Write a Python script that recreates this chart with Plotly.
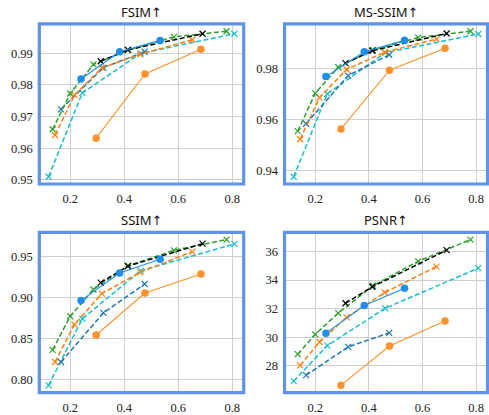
import plotly.graph_objects as go

# Bit rate (bpp) for each method
x_black = [0.313, 0.413, 0.690]
x_green = [0.135, 0.200, 0.286, 0.415, 0.584, 0.779]
x_orange = [0.144, 0.216, 0.317, 0.459, 0.652]
x_cyan = [0.120, 0.245, 0.461, 0.808]
x_blue = [0.166, 0.323, 0.476]
x_ours = [0.240, 0.383, 0.533]
x_orange_c = [0.296, 0.477, 0.684]

# FSIM
fsim_black = [0.9875, 0.9911, 0.9962]
fsim_green = [0.9660, 0.9773, 0.9865, 0.9911, 0.9952, 0.9970]
fsim_orange = [0.9642, 0.9768, 0.9854, 0.9897, 0.9943]
fsim_cyan = [0.9510, 0.9775, 0.9900, 0.9962]
fsim_blue = [0.9723, 0.9855, 0.9905]
fsim_ours = [0.9819, 0.9905, 0.9941]
fsim_orange_c = [0.9632, 0.9835, 0.9913]

# MS-SSIM
ms_black = [0.9823, 0.9872, 0.9940]
ms_green = [0.9555, 0.9704, 0.9807, 0.9875, 0.9924, 0.9949]
ms_orange = [0.9523, 0.9687, 0.9798, 0.9866, 0.9918]
ms_cyan = [0.9375, 0.9702, 0.9864, 0.9938]
ms_blue = [0.9584, 0.9774, 0.9856]
ms_ours = [0.9770, 0.9868, 0.9913]
ms_orange_c = [0.9563, 0.9795, 0.9882]

# SSIM
ssim_black = [0.9185, 0.9385, 0.9659]
ssim_green = [0.8365, 0.8774, 0.9100, 0.9390, 0.9578, 0.9709]
ssim_orange = [0.8217, 0.8674, 0.9050, 0.9310, 0.9562]
ssim_cyan = [0.7932, 0.8744, 0.9330, 0.9656]
ssim_blue = [0.8217, 0.8815, 0.9168]
ssim_ours = [0.8965, 0.9301, 0.9468]
ssim_orange_c = [0.8546, 0.9058, 0.9290]

# PSNR
psnr_black = [32.38, 33.53, 36.09]
psnr_green = [28.82, 30.20, 31.69, 33.60, 35.31, 36.83]
psnr_orange = [28.04, 29.67, 31.39, 33.13, 34.94]
psnr_cyan = [26.94, 29.42, 32.03, 34.83]
psnr_blue = [27.35, 29.33, 30.31]
psnr_ours = [30.29, 32.22, 33.43]
psnr_orange_c = [26.64, 29.39, 31.14]

titles = ["FSIM↑", "MS-SSIM↑", "SSIM↑", "PSNR↑"]
x_ticks = [0.2, 0.4, 0.6, 0.8]
y_ticks = [
    [0.95, 0.96, 0.97, 0.98, 0.99],
    [0.94, 0.96, 0.98],
    [0.80, 0.85, 0.90, 0.95],
    [28, 30, 32, 34, 36],
]
y_ticktext = [
    ["0.95", "0.96", "0.97", "0.98", "0.99"],
    ["0.94", "0.96", "0.98"],
    ["0.80", "0.85", "0.90", "0.95"],
    ["28", "30", "32", "34", "36"],
]

panels = [
    dict(black=fsim_black, green=fsim_green, orange=fsim_orange, cyan=fsim_cyan,
         blue=fsim_blue, ours=fsim_ours, orange_c=fsim_orange_c),
    dict(black=ms_black, green=ms_green, orange=ms_orange, cyan=ms_cyan,
         blue=ms_blue, ours=ms_ours, orange_c=ms_orange_c),
    dict(black=ssim_black, green=ssim_green, orange=ssim_orange, cyan=ssim_cyan,
         blue=ssim_blue, ours=ssim_ours, orange_c=ssim_orange_c),
    dict(black=psnr_black, green=psnr_green, orange=psnr_orange, cyan=psnr_cyan,
         blue=psnr_blue, ours=psnr_ours, orange_c=psnr_orange_c),
]

xs = dict(black=x_black, green=x_green, orange=x_orange, cyan=x_cyan,
          blue=x_blue, ours=x_ours, orange_c=x_orange_c)

styles = {
    "cyan": dict(color="#17becf", dash=True),
    "blue": dict(color="#1f77b4", dash=True),
    "orange": dict(color="#ff7f0e", dash=True),
    "green": dict(color="#2ca02c", dash=True),
    "black": dict(color="#000000", dash=True),
    "orange_c": dict(color="#ff922b", dash=False),
    "ours": dict(color="#1e8ff0", dash=False),
}

W, H = 489, 415
# panel boxes in pixels: left, right, top, bottom
boxes = [
    (39.3, 243.7, 24.3, 186.7),
    (284.5, 487.5, 24.3, 186.7),
    (39.3, 243.7, 235.7, 398.4),
    (284.5, 487.5, 235.7, 398.4),
]


def pad_range(vals, frac=0.05):
    lo, hi = min(vals), max(vals)
    d = (hi - lo) * frac
    return [lo - d, hi + d]


all_x = [v for arr in xs.values() for v in arr]
x_range = pad_range(all_x)

fig = go.Figure()
layout = dict(
    width=W, height=H, margin=dict(l=0, r=0, t=0, b=0), autosize=False,
    paper_bgcolor="white", plot_bgcolor="white", showlegend=False,
)
shapes = []
annotations = []
border = "#5f92e8"
grid = "#cfcfcf"
tick_font = dict(family="Liberation Serif, DejaVu Serif, serif", size=12.5, color="#222222")

for i, (panel, box) in enumerate(zip(panels, boxes)):
    n = i + 1
    xa = "x" if n == 1 else f"x{n}"
    ya = "y" if n == 1 else f"y{n}"
    for key in ["cyan", "blue", "orange", "green", "black", "orange_c", "ours"]:
        st = styles[key]
        if st["dash"]:
            fig.add_trace(go.Scatter(
                x=xs[key], y=panel[key], xaxis=xa, yaxis=ya, mode="lines+markers",
                line=dict(color=st["color"], width=1.5, dash="5px,2.5px"),
                marker=dict(symbol="x-thin", size=6, line=dict(width=1.2, color=st["color"])),
                hoverinfo="skip",
            ))
        else:
            fig.add_trace(go.Scatter(
                x=xs[key], y=panel[key], xaxis=xa, yaxis=ya, mode="lines+markers",
                line=dict(color=st["color"], width=1.1),
                marker=dict(symbol="circle", size=7.5, color=st["color"]),
                hoverinfo="skip",
            ))
    all_y = [v for arr in panel.values() for v in arr]
    l, r, t, b = box
    layout[f"xaxis{'' if n == 1 else n}"] = dict(
        domain=[l / W, r / W], range=x_range, anchor=ya,
        tickvals=x_ticks, ticktext=["0.2", "0.4", "0.6", "0.8"],
        showgrid=True, gridcolor=grid, gridwidth=1.2, zeroline=False,
        showline=False, ticks="outside", ticklen=3, tickcolor="rgba(0,0,0,0)",
        tickfont=tick_font,
    )
    layout[f"yaxis{'' if n == 1 else n}"] = dict(
        domain=[1 - b / H, 1 - t / H], range=pad_range(all_y), anchor=xa,
        tickvals=y_ticks[i], ticktext=y_ticktext[i],
        showgrid=True, gridcolor=grid, gridwidth=1.2, zeroline=False,
        showline=False, ticks="outside", ticklen=3, tickcolor="rgba(0,0,0,0)",
        tickfont=tick_font,
    )
    shapes.append(dict(
        type="rect", xref=f"{xa} domain", yref=f"{ya} domain",
        x0=0, x1=1, y0=0, y1=1, line=dict(color=border, width=3.2), layer="above",
    ))
    annotations.append(dict(
        text=titles[i], x=(l + r) / 2 / W, y=1 - (t - 12) / H,
        xref="paper", yref="paper", xanchor="center", yanchor="middle",
        showarrow=False, font=dict(family="Noto Sans, DejaVu Sans, sans-serif", size=13, color="#111111"),
    ))

layout["shapes"] = shapes
layout["annotations"] = annotations
fig.update_layout(**layout)
fig.write_html("out.html")
